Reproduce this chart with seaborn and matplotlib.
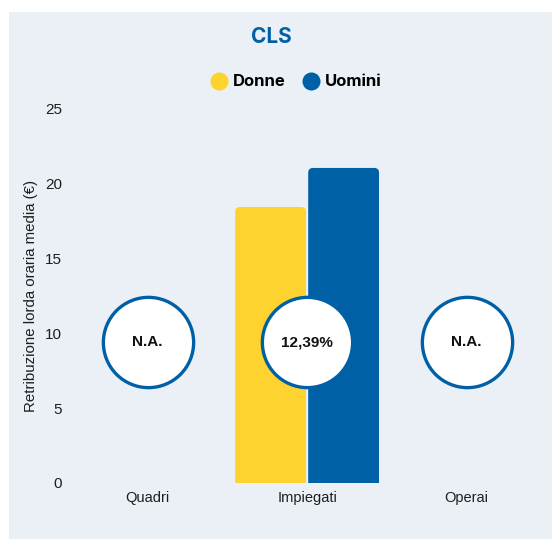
import numpy as np
import pandas as pd
import matplotlib
matplotlib.use("Agg")
import matplotlib.pyplot as plt
import seaborn as sns
from matplotlib.patches import Rectangle, FancyBboxPatch
from matplotlib.lines import Line2D

# -----------------------
# Data
# -----------------------
categories = ["Quadri", "Impiegati", "Operai"]
donne = [np.nan, 18.45, np.nan]
uomini = [np.nan, 21.06, np.nan]
gap_labels = ["N.A.", "12,39%", "N.A."]
series_names = ["Donne", "Uomini"]
y_ticks = [0, 5, 10, 15, 20, 25]

title = "CLS"
y_label = "Retribuzione lorda oraria media (€)"

# -----------------------
# Style
# -----------------------
YELLOW = "#FED330"
BLUE = "#0060A6"
PANEL = "#EAF0F5"
TEXT = "#1E1E1E"
CIRCLE_Y = 9.4

sns.set_theme(style="white")
plt.rcParams["font.family"] = ["Liberation Sans", "DejaVu Sans"]

df = pd.DataFrame({
    "Categoria": categories * 2,
    "Genere": [series_names[0]] * 3 + [series_names[1]] * 3,
    "Valore": donne + uomini,
}).dropna()

fig = plt.figure(figsize=(5.52, 5.39), dpi=100, facecolor="white")
fig.patches.append(Rectangle((9 / 552, 0), 543 / 552, 527 / 539,
                             transform=fig.transFigure, facecolor=PANEL,
                             edgecolor="none", zorder=-5))

ax = fig.add_axes([67.7 / 552, 1 - 483 / 539, 478.8 / 552, 374 / 539])
ax.set_zorder(2)
ax.set_facecolor(PANEL)

sns.barplot(data=df, x="Categoria", y="Valore", hue="Genere",
            order=categories, hue_order=series_names,
            palette=[YELLOW, BLUE], saturation=1, width=0.915, gap=0.03,
            legend=False, ax=ax, zorder=2)

# rounded top corners
aspect = (374 / 25) / (478.8 / 3)
for p in list(ax.patches):
    x0, y0 = p.get_x(), p.get_y()
    w, h = p.get_width(), p.get_height()
    if np.isnan(h) or h == 0:
        continue
    r = 0.03
    fb = FancyBboxPatch((x0, y0 - 1), w, h + 1,
                        boxstyle=f"round,pad=0,rounding_size={r}",
                        mutation_aspect=1 / aspect,
                        facecolor=p.get_facecolor(), edgecolor="none",
                        zorder=2, clip_on=True)
    ax.add_patch(fb)
    p.remove()

# gap circles
xs = np.arange(len(categories))
ax.scatter(xs, [CIRCLE_Y] * len(xs), s=65 ** 2, facecolor="white",
           edgecolor=BLUE, linewidth=2.4, zorder=4, clip_on=False)
for x, lab in zip(xs, gap_labels):
    ax.text(x, CIRCLE_Y, lab, ha="center", va="center", fontsize=11,
            fontweight="bold", color="#111111", zorder=5)

ax.set_xlim(-0.5, 2.5)
ax.set_ylim(0, 25)
ax.set_yticks(y_ticks)
ax.tick_params(axis="both", length=0, labelcolor=TEXT)
ax.tick_params(axis="y", pad=4, labelsize=11)
ax.tick_params(axis="x", pad=6, labelsize=10.5)
ax.set_xlabel("")
ax.set_ylabel(y_label, fontsize=10.8, color=TEXT)
ax.yaxis.set_label_coords(-0.062, 0.5)
sns.despine(ax=ax, left=True, bottom=True)

fig.text(271 / 552, 1 - 37 / 539, title, ha="center", va="center",
         fontsize=15, fontweight="bold", color=BLUE, family="Inter")

handles = [Line2D([], [], marker="o", linestyle="none", markersize=13,
                  markerfacecolor=c, markeredgecolor="none")
           for c in (YELLOW, BLUE)]
leg = fig.legend(handles, series_names, loc="center",
                 bbox_to_anchor=(296 / 552, 1 - 82 / 539), ncol=2,
                 frameon=False, handletextpad=0.35, columnspacing=1.0,
                 handlelength=1.0,
                 prop={"family": "Inter", "weight": "bold", "size": 12})
for t in leg.get_texts():
    t.set_color("black")

fig.savefig("out.png", dpi=100, facecolor="white")
